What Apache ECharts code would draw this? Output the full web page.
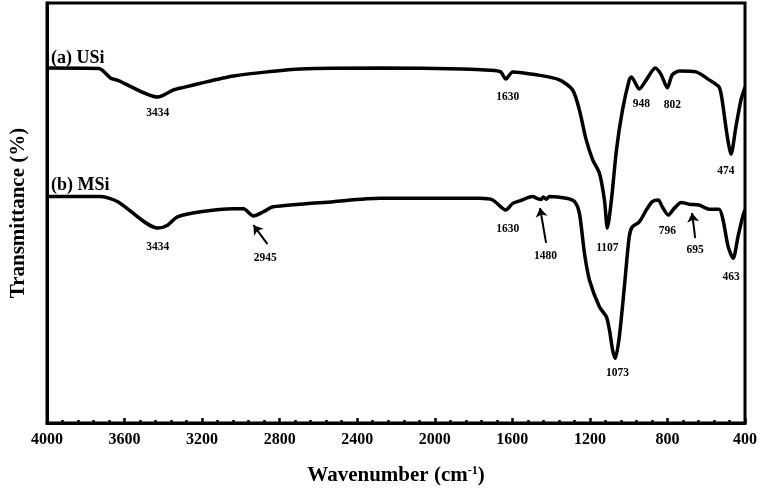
<!DOCTYPE html>
<html>
<head>
<meta charset="utf-8">
<script src="https://cdn.jsdelivr.net/npm/echarts@6/dist/echarts.min.js"></script>
<style>html,body{margin:0;padding:0;background:#fff}#c{width:760px;height:495px}</style>
</head>
<body>
<div id="c"></div>
<script>
// ---- data ----
const xTicks = [400, 800, 1200, 1600, 2000, 2400, 2800, 3200, 3600, 4000];
const usiWn = [4000, 3733, 3671, 3635, 3429, 3347, 3296, 3208, 3038, 2864, 2693, 2282, 1855, 1717, 1660, 1634, 1598, 1475, 1357, 1289, 1254, 1219, 1185, 1151, 1125, 1110, 1089, 1063, 1032, 997, 986, 945, 909, 863, 832, 801, 775, 739, 652, 585, 534, 518, 494, 472, 447, 421, 400];
const usiT  = [84.5, 84.4, 82.1, 81.6, 77.6, 79.3, 79.9, 80.9, 82.6, 83.6, 84.3, 84.5, 84.3, 84.0, 83.6, 81.9, 83.6, 82.9, 81.7, 79.3, 74.5, 67.4, 62.6, 59.5, 53.1, 46.4, 53.1, 65.0, 74.5, 81.7, 82.4, 79.5, 81.7, 84.5, 82.9, 79.8, 82.9, 83.8, 83.6, 81.7, 80.0, 76.9, 69.0, 64.0, 70.5, 76.9, 80.0];
const msiWn = [4000, 3722, 3635, 3429, 3378, 3327, 3208, 3038, 2987, 2935, 2884, 2833, 2524, 2282, 1768, 1701, 1634, 1598, 1562, 1495, 1470, 1452, 1440, 1425, 1409, 1322, 1279, 1254, 1228, 1202, 1151, 1115, 1099, 1083, 1069, 1048, 1022, 997, 981, 945, 909, 878, 847, 827, 796, 765, 729, 688, 637, 585, 534, 513, 487, 461, 436, 410, 400];
const msiT  = [53.9, 53.9, 52.7, 46.4, 47.1, 49.1, 50.3, 51.0, 51.0, 49.3, 50.3, 51.5, 52.7, 53.5, 53.5, 53.1, 50.7, 52.3, 52.9, 53.9, 53.4, 53.2, 53.8, 53.3, 53.9, 53.5, 52.7, 49.9, 40.4, 34.0, 27.7, 25.3, 22.1, 17.4, 15.4, 20.6, 32.5, 44.4, 46.7, 47.9, 50.7, 52.7, 53.1, 51.5, 49.5, 51.1, 52.5, 52.1, 51.9, 50.9, 50.9, 48.3, 42.0, 39.2, 44.4, 49.5, 50.7];
// peak labels: [wavenumber, transmittance, text]
const seriesNames = ['(a) USi', '(b) MSi'];
const seriesNamePos = [[3979, 86.9], [3979, 56.7]];
const usiPeaks = [[3429, 73.8, '3434'], [1624, 77.6, '1630'], [935, 76.0, '948'], [775, 75.7, '802'], [498, 60.0, '474'], [1110, 41.7, '1107']];
const msiPeaks = [[3429, 41.9, '3434'], [2874, 39.3, '2945'], [1624, 46.2, '1630'], [1429, 39.8, '1480'], [801, 45.7, '796'], [657, 41.2, '695'], [472, 34.8, '463'], [1058, 11.9, '1073']];
// arrows: [tailWn, tailT, headWn, headT]
const arrows = [[2863, 42.6, 2935, 47.1], [1426, 42.9, 1457, 51.2], [657, 44.0, 673, 50.0]];

const FONT = '"Liberation Serif", "Times New Roman", serif';
const chart = echarts.init(document.getElementById('c'), null, {renderer: 'canvas'});
const toPairs = (w, t) => w.map((x, i) => [x, t[i]]);
const peakData = usiPeaks.concat(msiPeaks).map(p => ({value: p}));
const nameData = seriesNames.map((n, i) => ({value: [seriesNamePos[i][0], seriesNamePos[i][1], n]}));

chart.setOption({
  animation: false,
  backgroundColor: '#fff',
  grid: {left: 46, right: 14, top: 3, bottom: 72, show: true, borderColor: '#000', borderWidth: 3, backgroundColor: 'transparent'},
  xAxis: {
    type: 'value', inverse: true, min: 400, max: 4000, interval: 400,
    axisLine: {show: true, lineStyle: {color: '#000', width: 3}},
    axisTick: {show: true, inside: true, length: 5, lineStyle: {color: '#000', width: 2.5}},
    minorTick: {show: true, splitNumber: 5, length: 3, lineStyle: {color: '#000', width: 2.5}},
    splitLine: {show: false},
    axisLabel: {color: '#000', fontFamily: FONT, fontWeight: 'bold', fontSize: 16, margin: 9,
      formatter: v => xTicks.includes(v) ? String(v) : ''},
    name: '{a|Wavenumber (cm}{s|-1}{a|)}',
    nameLocation: 'middle', nameGap: 42,
    nameTextStyle: {color: '#000', fontFamily: FONT, fontWeight: 'bold', fontSize: 21,
      rich: {a: {fontFamily: FONT, fontWeight: 'bold', fontSize: 21, color: '#000'},
             s: {fontFamily: FONT, fontWeight: 'bold', fontSize: 12, color: '#000', padding: [0, 0, 10, 0]}}}
  },
  yAxis: {
    type: 'value', min: 0, max: 100,
    axisLine: {show: true, lineStyle: {color: '#000', width: 3}},
    axisTick: {show: false}, axisLabel: {show: false}, splitLine: {show: false},
    name: 'Transmittance (%)', nameLocation: 'middle', nameGap: 18,
    nameTextStyle: {color: '#000', fontFamily: FONT, fontWeight: 'bold', fontSize: 21}
  },
  series: [
    {type: 'line', data: toPairs(usiWn, usiT), showSymbol: false, smooth: 0.25,
      lineStyle: {color: '#000', width: 3.5}},
    {type: 'line', data: toPairs(msiWn, msiT), showSymbol: false, smooth: 0.25,
      lineStyle: {color: '#000', width: 3.5},
      markLine: {silent: true, symbol: ['none', 'arrow'], symbolSize: 9, label: {show: false},
        lineStyle: {color: '#000', width: 2, type: 'solid'},
        itemStyle: {color: '#000'},
        data: arrows.map(a => [{coord: [a[0], a[1]]}, {coord: [a[2], a[3]]}])}},
    {type: 'scatter', data: peakData, symbolSize: 0, silent: true, itemStyle: {opacity: 1, color: '#000'},
      label: {show: true, position: 'inside', color: '#000', opacity: 1, fontFamily: FONT, fontWeight: 'bold', fontSize: 11.5,
        formatter: p => p.value[2]}},
    {type: 'scatter', data: nameData, symbolSize: 0, silent: true, itemStyle: {opacity: 1, color: '#000'},
      label: {show: true, position: 'inside', align: 'left', color: '#000', opacity: 1, fontFamily: FONT, fontWeight: 'bold', fontSize: 18,
        formatter: p => p.value[2]}}
  ]
});
</script>
</body>
</html>
